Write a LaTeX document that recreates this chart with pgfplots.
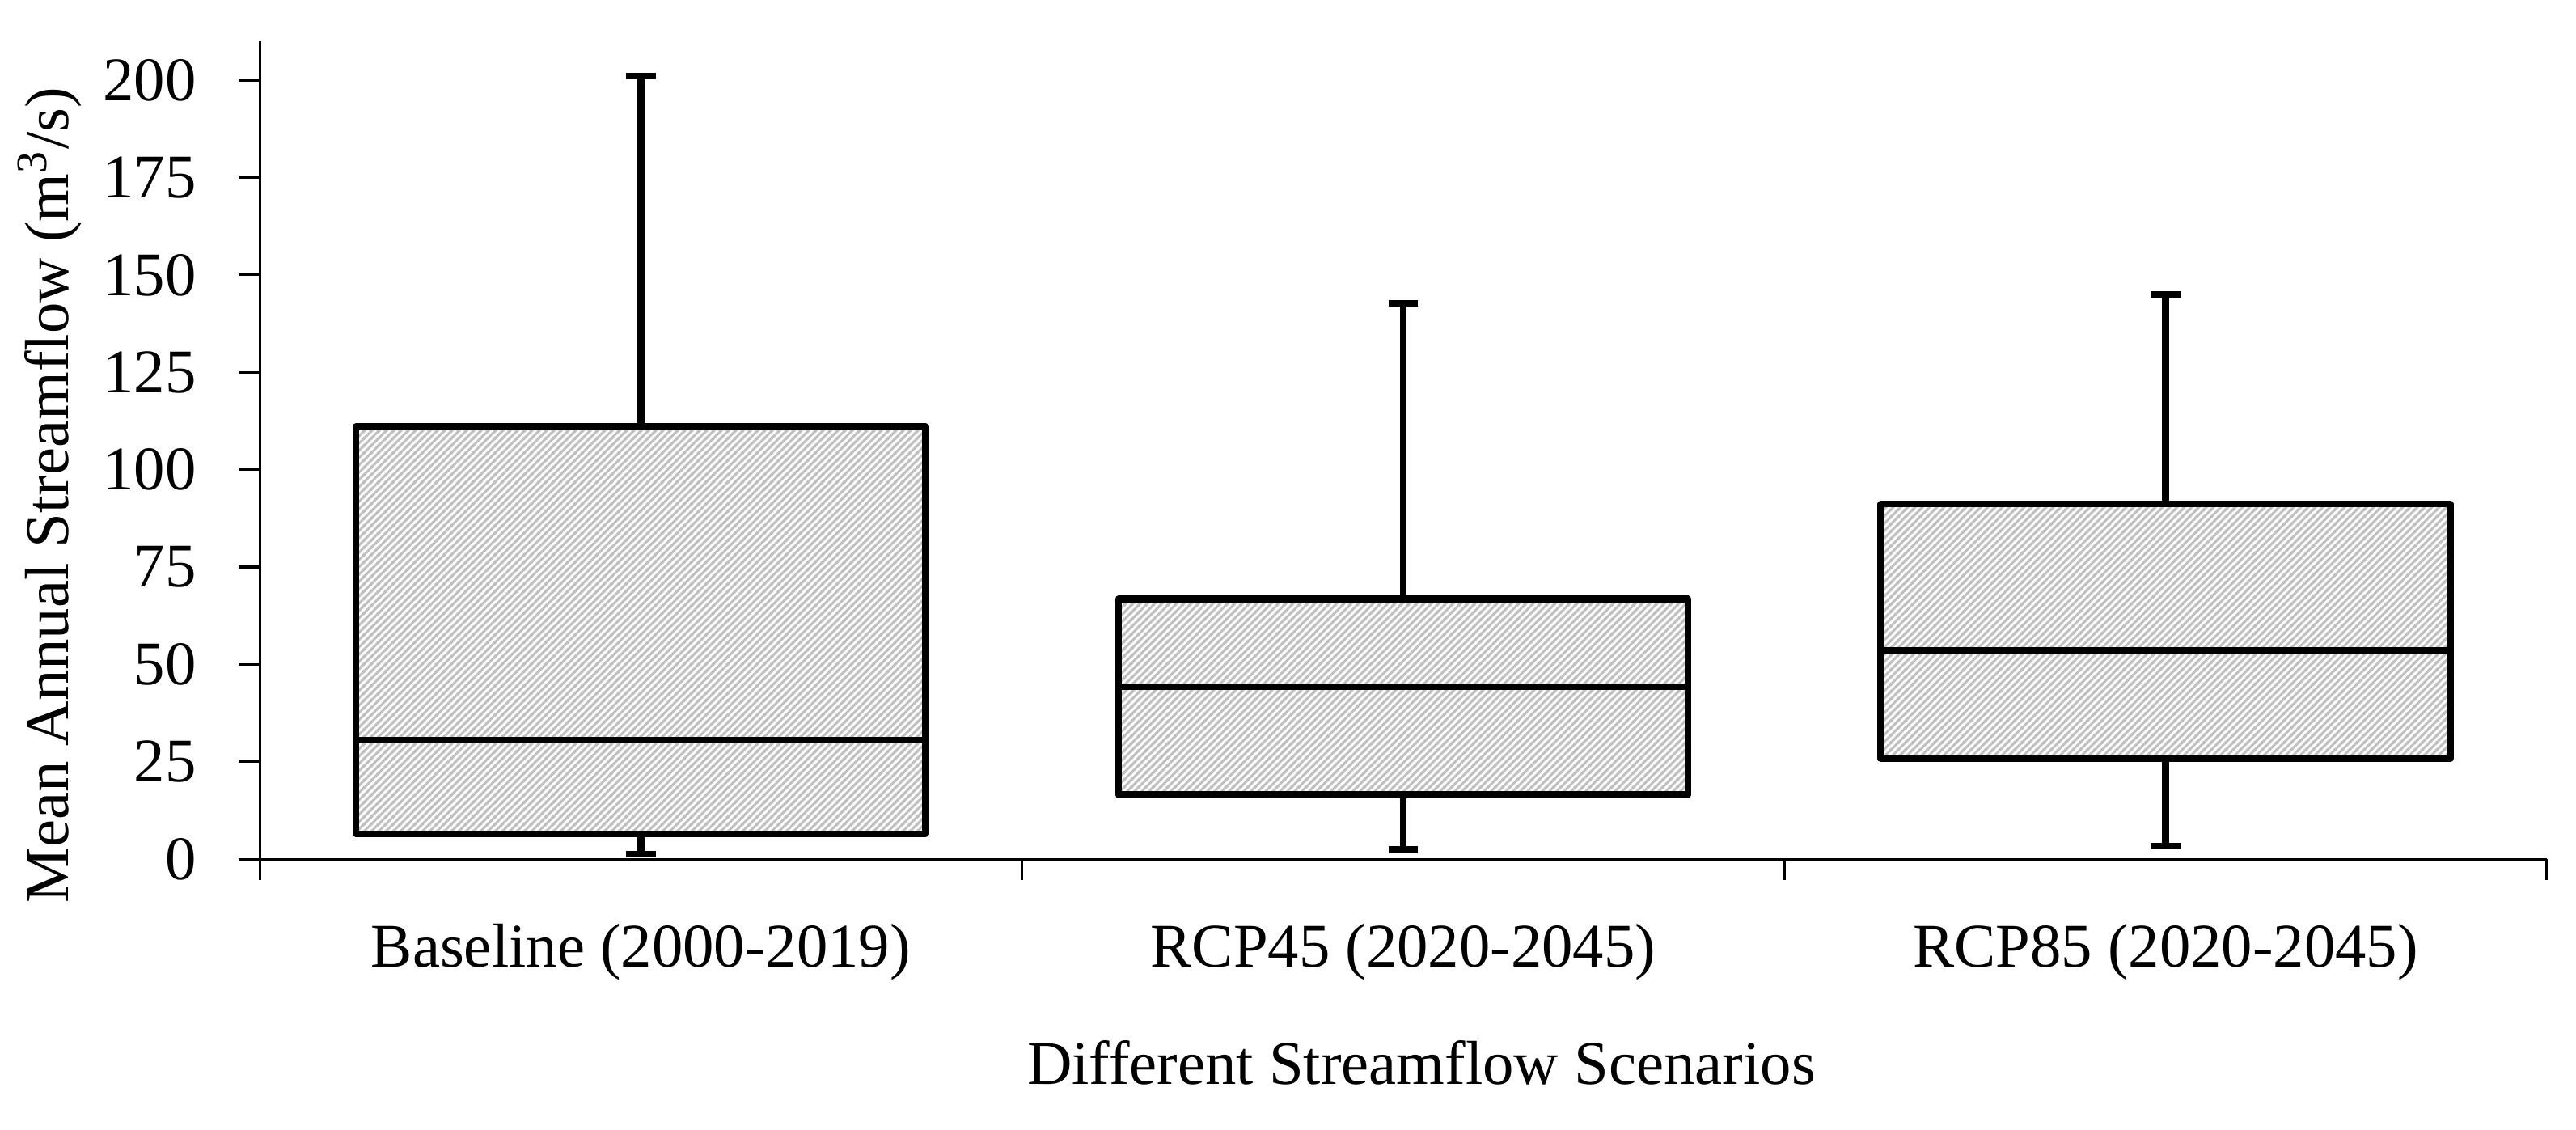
\documentclass[border=0pt]{standalone}
\usepackage{fontspec}
\setmainfont{Liberation Serif}
\usepackage{pgfplots}
\pgfplotsset{compat=1.18}
\usetikzlibrary{patterns}
\definecolor{hatch}{RGB}{192,192,192}

% dense upward diagonal hatch
\pgfdeclarepatternformonly{denseNE}{\pgfqpoint{0pt}{0pt}}{\pgfqpoint{1.5pt}{1.5pt}}{\pgfqpoint{1.5pt}{1.5pt}}{
  \pgfsetlinewidth{0.55pt}
  \pgfpathmoveto{\pgfqpoint{-0.5pt}{-0.5pt}}
  \pgfpathlineto{\pgfqpoint{2pt}{2pt}}
  \pgfpathmoveto{\pgfqpoint{-2pt}{-0.5pt}}
  \pgfpathlineto{\pgfqpoint{0.5pt}{2pt}}
  \pgfpathmoveto{\pgfqpoint{1pt}{-0.5pt}}
  \pgfpathlineto{\pgfqpoint{3.5pt}{2pt}}
  \pgfusepath{stroke}
}

\pgfplotsset{
  boxline/.style={draw=black, line width=1.35pt, line join=round, mark=none},
  boxbody/.style={boxline, pattern=denseNE, pattern color=hatch},
}

\begin{document}
\fontsize{12.5}{15}\selectfont
\begin{tikzpicture}
\begin{axis}[
    name=ax,
    scale only axis,
    width=460.6pt, height=164.7pt,
    xmin=0.5, xmax=3.5,
    ymin=0, ymax=210,
    axis x line*=bottom, axis y line*=left,
    axis line style={line width=0.5pt, black},
    tick style={line width=0.5pt, black},
    tick align=outside,
    major tick length=4.2pt,
    xtick={0.5,1.5,2.5,3.5},
    xticklabels={},
    extra x ticks={1,2,3},
    extra x tick labels={Baseline (2000-2019), RCP45 (2020-2045), RCP85 (2020-2045)},
    extra x tick style={major tick length=0pt},
    xticklabel style={anchor=base, inner sep=0pt, yshift=-21.7pt},
    ytick={0,25,...,200},
    yticklabel style={anchor=east, inner sep=0pt, xshift=-8.4pt},
    /pgf/number format/assume math mode=true,
    xlabel={Different Streamflow Scenarios},
    xlabel style={at={(axis description cs:0.508,0)}, anchor=base, yshift=-45.3pt},
    ylabel={Mean Annual Streamflow (m\textsuperscript{3}/s)},
    ylabel style={at={(axis description cs:-0.0838,0.445)}, anchor=base},
]
% boxes: lower quartile to upper quartile, width 0.747
\addplot[boxbody] coordinates {(0.6265,6.5) (1.3735,6.5) (1.3735,111) (0.6265,111)} -- cycle;
\addplot[boxbody] coordinates {(1.6265,16.5) (2.3735,16.5) (2.3735,66.8) (1.6265,66.8)} -- cycle;
\addplot[boxbody] coordinates {(2.6265,25.8) (3.3735,25.8) (3.3735,91.2) (2.6265,91.2)} -- cycle;
% medians
\addplot[boxline] coordinates {(0.6265,30.6) (1.3735,30.6)};
\addplot[boxline] coordinates {(1.6265,44.2) (2.3735,44.2)};
\addplot[boxline] coordinates {(2.6265,53.6) (3.3735,53.6)};
% whiskers
\addplot[boxline] coordinates {(1,111) (1,201)};
\addplot[boxline] coordinates {(1,6.5) (1,1.3)};
\addplot[boxline] coordinates {(2,66.8) (2,142.7)};
\addplot[boxline] coordinates {(2,16.5) (2,2.4)};
\addplot[boxline] coordinates {(3,91.2) (3,145)};
\addplot[boxline] coordinates {(3,25.8) (3,3.3)};
% whisker caps
\addplot[boxline] coordinates {(0.9805,201) (1.0195,201)};
\addplot[boxline] coordinates {(0.9805,1.3) (1.0195,1.3)};
\addplot[boxline] coordinates {(1.9805,142.7) (2.0195,142.7)};
\addplot[boxline] coordinates {(1.9805,2.4) (2.0195,2.4)};
\addplot[boxline] coordinates {(2.9805,145) (3.0195,145)};
\addplot[boxline] coordinates {(2.9805,3.3) (3.0195,3.3)};
\end{axis}
\pgfresetboundingbox
\path ([xshift=-52.3pt,yshift=-54.4pt]ax.south west) rectangle ([xshift=5.9pt,yshift=8.3pt]ax.north east);
\end{tikzpicture}
\end{document}
